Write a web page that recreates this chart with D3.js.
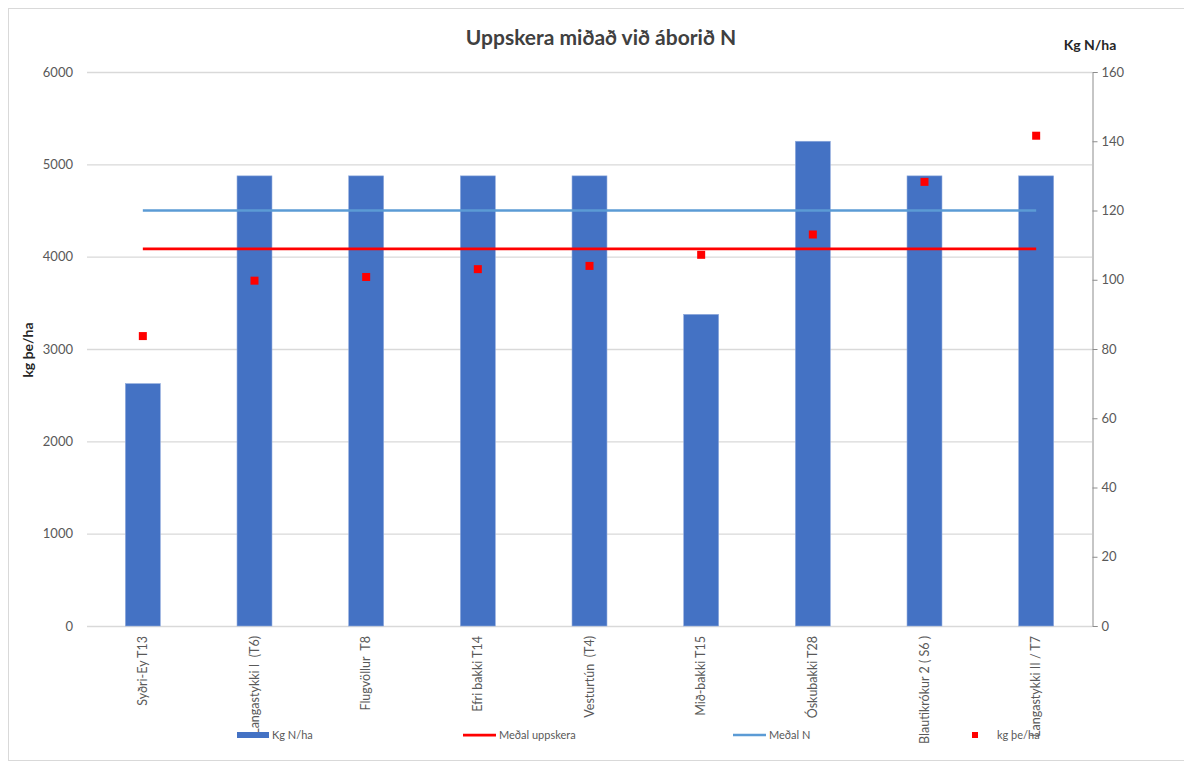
<!DOCTYPE html>
<html><head><meta charset="utf-8">
<script src="https://cdn.jsdelivr.net/npm/d3@7"></script>
<style>
html,body{margin:0;padding:0;background:#fff;}
text{font-family:Lato,"Noto Sans",sans-serif;}
</style></head>
<body><svg id="c" width="1184" height="765"></svg>
<script>
const categories = ["Syðri-Ey T13","Langastykki I  (T6)","Flugvöllur  T8","Efri bakki T14","Vesturtún  (T4)","Mið-bakki T15","Óskubakki T28","Blautikrókur 2 ( S6 )","Langastykki II / T7"];
const kgN = [70,130,130,130,130,90,140,130,130];
const medalUppskera = [4085,4085,4085,4085,4085,4085,4085,4085,4085];
const medalN = [120,120,120,120,120,120,120,120,120];
const kgThe = [3140,3740,3780,3865,3900,4020,4240,4810,5310];
const leftTicks = [0,1000,2000,3000,4000,5000,6000];
const rightTicks = [0,20,40,60,80,100,120,140,160];

const svg = d3.select("#c");
const L=87, R=1092, T=72, B=626;

svg.append("rect").attr("x",8.5).attr("y",8.5).attr("width",1190).attr("height",752)
  .attr("fill","none").attr("stroke","#d9d9d9");

const x = d3.scaleBand().domain(categories).range([L,R]).paddingInner(0.687).paddingOuter(0.3435);
const xc = d => x(d)+x.bandwidth()/2;
const yL = d3.scaleLinear().domain([0,6000]).range([B,T]);
const yR = d3.scaleLinear().domain([0,160]).range([B,T]);

// gridlines
svg.append("g").selectAll("line").data(leftTicks).join("line")
  .attr("x1",L).attr("x2",R).attr("y1",d=>yL(d)+0.5).attr("y2",d=>yL(d)+0.5)
  .attr("stroke","#d9d9d9").attr("stroke-width",1.3);

// left axis labels
const gl = svg.append("g").attr("transform",`translate(${L-14},0)`)
  .call(d3.axisLeft(yL).tickValues(leftTicks).tickFormat(d3.format("d")).tickSize(0).tickPadding(0));
gl.select(".domain").remove();
gl.selectAll("text").attr("font-size",13).attr("fill","#595959").style("font-family","Lato,'Noto Sans',sans-serif");

// right axis
const gr = svg.append("g").attr("transform",`translate(${R+0.5},0)`)
  .call(d3.axisRight(yR).tickValues(rightTicks).tickFormat(d3.format("d")).tickSize(5).tickPadding(4));
gr.select(".domain").attr("stroke","#8c8c8c");
gr.selectAll("line").attr("stroke","#8c8c8c");
gr.selectAll("text").attr("font-size",13).attr("fill","#595959").style("font-family","Lato,'Noto Sans',sans-serif");

// bars
svg.append("g").selectAll("rect").data(categories).join("rect")
  .attr("x",d=>x(d)).attr("width",x.bandwidth())
  .attr("y",(d,i)=>yR(kgN[i])).attr("height",(d,i)=>B-yR(kgN[i]))
  .attr("fill","#4472C4").attr("stroke","#8faadc").attr("stroke-width",0.6);

// lines
const lineN = d3.line().x((d,i)=>xc(categories[i])).y(d=>yR(d));
svg.append("path").attr("d",lineN(medalN)).attr("fill","none").attr("stroke","#5B9BD5").attr("stroke-width",2.5);
const lineU = d3.line().x((d,i)=>xc(categories[i])).y(d=>yL(d));
svg.append("path").attr("d",lineU(medalUppskera)).attr("fill","none").attr("stroke","#FF0000").attr("stroke-width",2.75);

// points
svg.append("g").selectAll("rect").data(kgThe).join("rect")
  .attr("x",(d,i)=>xc(categories[i])-4).attr("y",d=>yL(d)-4)
  .attr("width",8).attr("height",8).attr("fill","#FF0000");

// x labels
svg.append("g").selectAll("text").data(categories).join("text")
  .attr("transform",d=>`translate(${xc(d)+4},${B+10}) rotate(-90)`)
  .attr("text-anchor","end").attr("font-size",12.5).attr("fill","#595959")
  .style("white-space","pre").text(d=>d);

// title
svg.append("text").attr("x",601).attr("y",45).attr("text-anchor","middle")
  .attr("font-size",21).attr("font-weight","bold").attr("fill","#404040")
  .text("Uppskera miðað við áborið N");
svg.append("text").attr("x",1090).attr("y",50).attr("text-anchor","middle")
  .attr("font-size",14).attr("font-weight","bold").attr("fill","#262626").text("Kg N/ha");
svg.append("text").attr("transform","translate(33,350) rotate(-90)").attr("text-anchor","middle")
  .attr("font-size",14).attr("font-weight","bold").attr("fill","#262626").text("kg þe/ha");

// legend
const ly = 735;
const lg = svg.append("g");
lg.append("rect").attr("x",237).attr("y",ly-3).attr("width",32).attr("height",6).attr("fill","#4472C4");
lg.append("text").attr("x",272).attr("y",ly+4).attr("font-size",11).attr("fill","#595959").text("Kg N/ha");
lg.append("line").attr("x1",463).attr("x2",496).attr("y1",ly).attr("y2",ly).attr("stroke","#FF0000").attr("stroke-width",2.75);
lg.append("text").attr("x",499).attr("y",ly+4).attr("font-size",11).attr("fill","#595959").text("Meðal uppskera");
lg.append("line").attr("x1",733).attr("x2",766).attr("y1",ly).attr("y2",ly).attr("stroke","#5B9BD5").attr("stroke-width",2.5);
lg.append("text").attr("x",769).attr("y",ly+4).attr("font-size",11).attr("fill","#595959").text("Meðal N");
lg.append("rect").attr("x",972).attr("y",ly-3).attr("width",6).attr("height",6).attr("fill","#FF0000");
lg.append("text").attr("x",997).attr("y",ly+4).attr("font-size",11).attr("fill","#595959").text("kg þe/ha");
</script></body></html>
